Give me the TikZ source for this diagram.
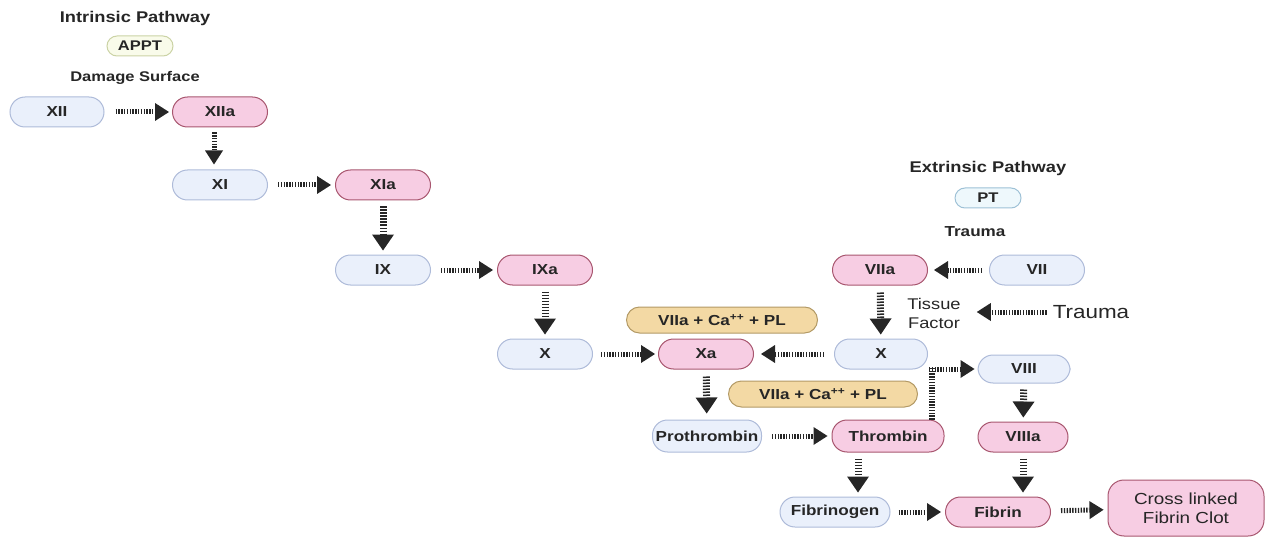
\documentclass[tikz,border=0pt]{standalone}
\usepackage{fontspec}
\setmainfont{Liberation Sans}[FakeStretch=1.18]
\usetikzlibrary{arrows.meta}
\definecolor{blueF}{HTML}{EAF0FB}
\definecolor{blueD}{HTML}{AEBBD9}
\definecolor{pinkF}{HTML}{F7CDE3}
\definecolor{pinkD}{HTML}{A8566F}
\definecolor{tanF}{HTML}{F3D9A4}
\definecolor{tanD}{HTML}{B39A66}
\definecolor{apF}{HTML}{F9FBEA}
\definecolor{apD}{HTML}{CBD3A5}
\definecolor{ptF}{HTML}{EEF8FC}
\definecolor{ptD}{HTML}{9EC1D6}
\definecolor{ink}{HTML}{262626}
\begin{document}
\begin{tikzpicture}[x=1pt,y=-1pt,
  box/.style={draw, line width=1pt, rounded corners=15pt, minimum width=95pt, minimum height=30pt,
    inner sep=0pt, text=ink, font=\bfseries\fontsize{14.5}{16}\selectfont},
  bluebox/.style={box, fill=blueF, draw=blueD},
  pinkbox/.style={box, fill=pinkF, draw=pinkD},
  tanbox/.style={box, fill=tanF, draw=tanD, minimum height=26pt, rounded corners=13pt},
  smallpill/.style={draw, line width=1pt, rounded corners=10pt, minimum width=66pt, minimum height=20pt,
    inner sep=0pt, text=ink, font=\bfseries\fontsize{14}{15}\selectfont},
  head/.style={inner sep=0pt, text=ink, font=\bfseries\fontsize{15.5}{17}\selectfont},
  plain/.style={inner sep=0pt, text=ink, align=center},
  clotbox/.style={draw=pinkD, fill=pinkF, line width=1pt, rounded corners=16pt, minimum width=156pt,
    minimum height=56pt, inner sep=0pt, align=center, text=ink, font=\fontsize{16}{19}\selectfont},
  shaft/.style={draw=ink, line width=5pt, dash pattern=on 1.4pt off 1.4pt},
  flow/.style={shaft, -{Triangle[length=14pt,width=18pt,line width=0pt]}, shorten <=8pt, shorten >=4pt},
  vflow/.style={draw=ink, line width=7pt, dash pattern=on 1.5pt off 1.5pt,
    -{Triangle[length=16pt,width=22pt,line width=0pt]}, shorten <=6pt, shorten >=4pt}
]
\useasboundingbox (0,0) rectangle (1266,540);

% headers
\node[head] (intr) at (135,18) {Intrinsic Pathway};
\node[smallpill, fill=apF, draw=apD] (appt) at (140,46) {APPT};
\node[head, font=\bfseries\fontsize{14}{15}\selectfont] (dmg) at (135,78) {Damage Surface};
\node[head] (extr) at (988,168) {Extrinsic Pathway};
\node[smallpill, fill=ptF, draw=ptD] (pt) at (988,198) {PT};
\node[head, font=\bfseries\fontsize{14.5}{16}\selectfont] (trb) at (975,232) {Trauma};

% intrinsic chain
\node[bluebox, minimum width=94pt] (XII) at (57,112) {XII};
\node[pinkbox] (XIIa) at (220,112) {XIIa};
\node[bluebox] (XI) at (220,185) {XI};
\node[pinkbox] (XIa) at (383,185) {XIa};
\node[bluebox] (IX) at (383,270) {IX};
\node[pinkbox] (IXa) at (545,270) {IXa};
\node[bluebox] (Xl) at (545,354) {X};
\node[pinkbox] (Xa) at (706,354) {Xa};

% extrinsic
\node[pinkbox] (VIIa) at (880,270) {VIIa};
\node[bluebox] (VII) at (1037,270) {VII};
\node[plain, font=\fontsize{15.5}{19}\selectfont] (TF) at (934,313) {Tissue\\Factor};
\node[plain, font=\fontsize{19}{22}\selectfont] (trbig) at (1091,312) {Trauma};
\node[bluebox, minimum width=93pt] (Xr) at (881,354) {X};

% cofactors
\node[tanbox, minimum width=191pt] (C1) at (722,320) {VIIa + Ca\textsuperscript{++} + PL};
\node[tanbox, minimum width=189pt] (C2) at (823,394) {VIIa + Ca\textsuperscript{++} + PL};

% common
\node[bluebox, minimum width=92pt, minimum height=28pt] (VIII) at (1024,369) {VIII};
\node[bluebox, minimum width=109pt, minimum height=32pt] (Pro) at (707,436) {Prothrombin};
\node[pinkbox, minimum width=112pt, minimum height=32pt] (Thr) at (888,436) {Thrombin};
\node[pinkbox, minimum width=90pt] (VIIIa) at (1023,437) {VIIIa};
\node[bluebox, minimum width=110pt] (Fbg) at (835,512) {Fibrinogen};
\node[pinkbox, minimum width=105pt] (Fib) at (998,512) {Fibrin};
\node[clotbox] (Clot) at (1186,508) {Cross linked\\Fibrin Clot};

\coordinate (elb) at ([xshift=44pt]Thr.north |- VIII.west);

% connectors
\draw[flow, shorten <=11pt, shorten >=3pt] (XII) -- (XIIa);
\draw[flow, shorten <=5pt, shorten >=5pt] ([xshift=-6pt]XIIa.south) -- ([xshift=-6pt]XI.north);
\draw[flow, shorten <=10pt] (XI) -- (XIa);
\draw[vflow] (XIa) -- (IX);
\draw[flow, shorten <=10pt] (IX) -- (IXa);
\draw[vflow] (IXa) -- (Xl);
\draw[flow, shorten <=8pt, shorten >=3pt] (Xl) -- (Xa);
\draw[flow, shorten <=10pt, shorten >=7pt] (Xr) -- (Xa);
\draw[flow, shorten <=7pt, shorten >=6pt] (VII) -- (VIIa);
\draw[vflow, shorten <=7pt] (VIIa) -- (Xr);
\draw[flow, shorten <=6pt, shorten >=16pt] (trbig.west) -- (TF.east |- trbig.west);
\draw[vflow, shorten <=7pt, shorten >=6pt] (Xa) -- (Pro);
\draw[flow, shorten <=10pt] (Pro) -- (Thr);
\draw[shaft, line width=6pt] ([xshift=44pt]Thr.north) -- ([yshift=2.5pt]elb);
\draw[flow, shorten <=-3pt, shorten >=3pt] (elb) -- (VIII.west);
\draw[vflow] (VIII) -- (VIIIa);
\draw[vflow] ([xshift=-30pt]Thr.south) -- ([xshift=-30pt]Thr.south |- Fbg.north);
\draw[vflow] (VIIIa.south) -- (VIIIa.south |- Fib.north);
\draw[flow, shorten <=8pt, shorten >=4pt] (Fbg) -- (Fib);
\draw[flow, shorten <=10pt, shorten >=4pt] (Fib) -- (Clot);
\end{tikzpicture}
\end{document}
